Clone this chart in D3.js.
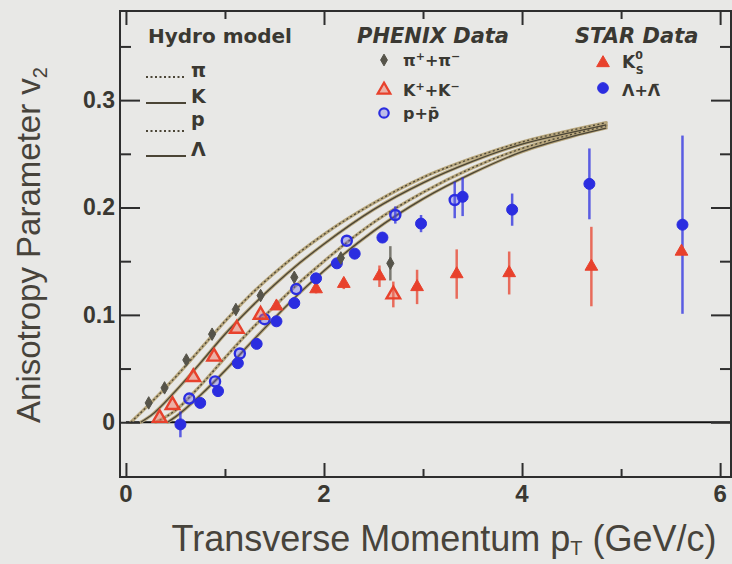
<!DOCTYPE html>
<html>
<head>
<meta charset="utf-8">
<script src="https://cdn.jsdelivr.net/npm/d3@7"></script>
<style>
  html, body { margin: 0; padding: 0; background: #e8e8e6; }
  svg { display: block; }
</style>
</head>
<body>
<svg id="chart" width="732" height="564"></svg>
<script>
// ---------- data ----------
// Hydro model curves (pT in GeV/c, v2)
const hydroPt    = [0.05, 0.25, 0.5, 0.75, 1.0, 1.25, 1.5, 1.75, 2.0, 2.5, 3.0, 3.5, 4.0, 4.5, 4.85];
const hydroPion  = [0.000, 0.018, 0.042, 0.068, 0.094, 0.118, 0.139, 0.158, 0.175, 0.204, 0.228, 0.246, 0.261, 0.272, 0.279];
const hydroKaon  = [null, 0.006, 0.029, 0.055, 0.082, 0.106, 0.128, 0.148, 0.166, 0.198, 0.223, 0.243, 0.259, 0.270, 0.277];
const hydroProt  = [null, null, 0.011, 0.034, 0.060, 0.085, 0.108, 0.130, 0.150, 0.186, 0.214, 0.237, 0.255, 0.268, 0.276];
const hydroLam   = [null, null, 0.005, 0.025, 0.048, 0.073, 0.097, 0.120, 0.141, 0.178, 0.208, 0.232, 0.252, 0.266, 0.274];
const hydroStart = [0.05, 0.15, 0.30, 0.42];   // pT where each curve leaves zero

// PHENIX pi+ + pi-
const phxPiPt  = [0.23, 0.39, 0.61, 0.87, 1.11, 1.36, 1.70, 2.17, 2.67];
const phxPiV2  = [0.018, 0.032, 0.058, 0.082, 0.105, 0.118, 0.135, 0.153, 0.148];
const phxPiErr = [0, 0, 0, 0, 0, 0, 0, 0, 0.016];
// PHENIX K+ + K-
const phxKPt   = [0.34, 0.47, 0.68, 0.89, 1.12, 1.36, 2.70];
const phxKV2   = [0.004, 0.016, 0.042, 0.061, 0.087, 0.100, 0.119];
const phxKErr  = [0, 0, 0, 0, 0, 0, 0.012];
// PHENIX p + pbar
const phxPPt   = [0.64, 0.90, 1.15, 1.40, 1.72, 2.23, 2.72, 3.32];
const phxPV2   = [0.022, 0.038, 0.064, 0.096, 0.124, 0.169, 0.193, 0.207];
const phxPErr  = [0, 0, 0, 0, 0, 0, 0.008, 0.017];
// STAR K0s
const starKPt  = [1.52, 1.92, 2.20, 2.56, 2.94, 3.34, 3.87, 4.70, 5.61];
const starKV2  = [0.108, 0.124, 0.129, 0.136, 0.126, 0.138, 0.139, 0.145, 0.159];
const starKErr = [0, 0.004, 0.005, 0.010, 0.016, 0.023, 0.020, 0.037, 0.000];
// STAR Lambda + anti-Lambda
const starLPt  = [0.55, 0.75, 0.93, 1.13, 1.32, 1.52, 1.70, 1.92, 2.13, 2.31, 2.59, 2.98, 3.40, 3.90, 4.68, 5.62];
const starLV2  = [-0.002, 0.018, 0.029, 0.055, 0.073, 0.094, 0.111, 0.134, 0.148, 0.157, 0.172, 0.185, 0.210, 0.198, 0.222, 0.184];
const starLErr = [0.012, 0, 0, 0, 0, 0, 0, 0, 0, 0, 0, 0.008, 0.018, 0.015, 0.033, 0.083];

// axis ticks
const xMajor = [0, 2, 4, 6];
const xMinor = [1, 3, 5];
const yMajor = [0, 0.1, 0.2, 0.3];
const yMinor = [0.05, 0.15, 0.25, 0.35];
const xTickLabels = ["0", "2", "4", "6"];
const yTickLabels = ["0", "0.1", "0.2", "0.3"];

// ---------- drawing ----------
const svg = d3.select("#chart");
const W = 732, H = 564;
const frame = {left: 120, top: 11, right: 731, bottom: 477};

const x = d3.scaleLinear().domain([-0.06, 6.11]).range([frame.left, frame.right]);
const y = d3.scaleLinear().domain([-0.051, 0.383]).range([frame.bottom, frame.top]);

const RED = "#e8412c", BLUE = "#2b2de0", GRAY = "#56544a";
const INK = "#3a3832";
const BAND = "#b8a77d", HYD = "#4b4536";

svg.append("rect").attr("width", W).attr("height", H).attr("fill", "#e8e8e6");

const plot = svg.append("g");

// zero line
plot.append("line")
  .attr("x1", x(0)).attr("x2", frame.right)
  .attr("y1", y(0)).attr("y2", y(0))
  .attr("stroke", "#111").attr("stroke-width", 2);

// hydro curves
const curves = [
  {v: hydroPion, start: hydroStart[0], dash: "2,2.5"},
  {v: hydroKaon, start: hydroStart[1], dash: null},
  {v: hydroProt, start: hydroStart[2], dash: "2,2.5"},
  {v: hydroLam,  start: hydroStart[3], dash: null}
];
const line = d3.line().x(d => x(d[0])).y(d => y(d[1])).curve(d3.curveMonotoneX);
curves.forEach(c => {
  const pts = [[c.start, 0]];
  hydroPt.forEach((p, i) => { if (c.v[i] !== null && p > c.start) pts.push([p, c.v[i]]); });
  c.pts = pts;
});
curves.forEach(c => {
  plot.append("path").attr("d", line(c.pts))
    .attr("fill", "none").attr("stroke", BAND).attr("stroke-width", 3.2).attr("stroke-linecap", "round");
});
curves.forEach(c => {
  plot.append("path").attr("d", line(c.pts))
    .attr("fill", "none").attr("stroke", HYD).attr("stroke-width", 1.3)
    .attr("stroke-dasharray", c.dash);
});

// error bars helper
function errBars(pt, v2, err, color) {
  plot.append("g").selectAll("line")
    .data(pt.map((p, i) => [p, v2[i], err[i]]).filter(d => d[2] > 0))
    .join("line")
    .attr("x1", d => x(d[0])).attr("x2", d => x(d[0]))
    .attr("y1", d => y(d[1] - d[2])).attr("y2", d => y(d[1] + d[2]))
    .attr("stroke", color).attr("stroke-width", 2.5).attr("stroke-opacity", 0.75);
}
errBars(starLPt, starLV2, starLErr, BLUE);
errBars(starKPt, starKV2, starKErr, RED);
errBars(phxPPt, phxPV2, phxPErr, BLUE);
errBars(phxKPt, phxKV2, phxKErr, RED);
errBars(phxPiPt, phxPiV2, phxPiErr, GRAY);

function markers(pt, v2, type, size, fill, stroke, sw) {
  plot.append("g").selectAll("path")
    .data(pt.map((p, i) => [p, v2[i]]))
    .join("path")
    .attr("transform", d => `translate(${x(d[0])},${y(d[1])})`)
    .attr("d", d3.symbol().type(type).size(size))
    .attr("fill", fill).attr("stroke", stroke).attr("stroke-width", sw);
}
markers(starKPt, starKV2, d3.symbolTriangle, 70, RED, RED, 1);
markers(starLPt, starLV2, d3.symbolCircle, 95, BLUE, BLUE, 1);
markers(phxPPt, phxPV2, d3.symbolCircle, 80, "rgba(90,90,240,0.35)", BLUE, 2.4);
markers(phxKPt, phxKV2, d3.symbolTriangle, 80, "rgba(240,110,90,0.45)", RED, 2.4);
markers(phxPiPt, phxPiV2, d3.symbolDiamond, 45, GRAY, GRAY, 1);

// ---------- frame and ticks ----------
const axG = svg.append("g");
axG.append("rect")
  .attr("x", frame.left).attr("y", frame.top)
  .attr("width", frame.right - frame.left).attr("height", frame.bottom - frame.top)
  .attr("fill", "none").attr("stroke", "#2e2e2e").attr("stroke-width", 2);

const bottomMaj = d3.axisBottom(x).tickValues(xMajor).tickSize(-14).tickFormat(() => "");
const bottomMin = d3.axisBottom(x).tickValues(xMinor).tickSize(-8).tickFormat(() => "");
const topMaj = d3.axisTop(x).tickValues(xMajor).tickSize(-14).tickFormat(() => "");
const topMin = d3.axisTop(x).tickValues(xMinor).tickSize(-8).tickFormat(() => "");
const leftMaj = d3.axisLeft(y).tickValues(yMajor).tickSize(-20).tickFormat(() => "");
const leftMin = d3.axisLeft(y).tickValues(yMinor).tickSize(-11).tickFormat(() => "");
const rightMaj = d3.axisRight(y).tickValues(yMajor).tickSize(-20).tickFormat(() => "");
const rightMin = d3.axisRight(y).tickValues(yMinor).tickSize(-11).tickFormat(() => "");

function place(ax, tx, ty) {
  const g = axG.append("g").attr("transform", `translate(${tx},${ty})`).call(ax);
  g.select(".domain").remove();
  g.selectAll(".tick line").attr("stroke", "#2e2e2e").attr("stroke-width", 2);
}
place(bottomMaj, 0, frame.bottom); place(bottomMin, 0, frame.bottom);
place(topMaj, 0, frame.top); place(topMin, 0, frame.top);
place(leftMaj, frame.left, 0); place(leftMin, frame.left, 0);
place(rightMaj, frame.right, 0); place(rightMin, frame.right, 0);

// tick labels
axG.append("g").selectAll("text").data(xMajor).join("text")
  .attr("x", d => x(d)).attr("y", 502)
  .attr("text-anchor", "middle")
  .attr("font-family", "Liberation Sans, Arial, sans-serif").attr("font-size", 24).attr("font-weight", "bold")
  .attr("fill", INK)
  .text((d, i) => xTickLabels[i]);
axG.append("g").selectAll("text").data(yMajor).join("text")
  .attr("x", 115).attr("y", d => y(d) + 8)
  .attr("text-anchor", "end")
  .attr("font-family", "Liberation Sans, Arial, sans-serif").attr("font-size", 23).attr("font-weight", "bold")
  .attr("fill", INK)
  .text((d, i) => yTickLabels[i]);

// axis titles
const xt = svg.append("text")
  .attr("x", 444).attr("y", 551).attr("text-anchor", "middle")
  .attr("font-family", "Liberation Sans, Arial, sans-serif").attr("font-size", 36)
  .attr("fill", "#47433b");
xt.append("tspan").text("Transverse Momentum p");
xt.append("tspan").attr("font-size", 20).attr("dy", 4).text("T");
xt.append("tspan").attr("dy", -4).text(" (GeV/c)");

const yt = svg.append("text")
  .attr("transform", "translate(40,245) rotate(-90)").attr("text-anchor", "middle")
  .attr("font-family", "Liberation Sans, Arial, sans-serif").attr("font-size", 33)
  .attr("fill", "#47433b");
yt.append("tspan").text("Anisotropy Parameter v");
yt.append("tspan").attr("font-size", 20).attr("dy", 7).text("2");

// ---------- legend ----------
const lg = svg.append("g").attr("font-family", "DejaVu Sans, sans-serif").attr("fill", INK);
lg.append("text").attr("x", 148).attr("y", 43).attr("font-size", 20).attr("font-weight", "bold").text("Hydro model");
lg.append("text").attr("x", 357).attr("y", 43).attr("font-size", 21).attr("font-weight", "bold").attr("font-style", "italic").text("PHENIX Data");
lg.append("text").attr("x", 575).attr("y", 43).attr("font-size", 21).attr("font-weight", "bold").attr("font-style", "italic").text("STAR Data");

const hydroLegend = [
  {label: "π", y: 77, dash: "2,2.5"},
  {label: "K", y: 103, dash: null},
  {label: "p", y: 131, dash: "2,2.5"},
  {label: "Λ", y: 156, dash: null}
];
hydroLegend.forEach(h => {
  lg.append("line").attr("x1", 146).attr("x2", 186).attr("y1", h.y).attr("y2", h.y)
    .attr("stroke", HYD).attr("stroke-width", 2).attr("stroke-dasharray", h.dash);
  lg.append("text").attr("x", 191).attr("y", h.label === "p" ? 126 : h.y).attr("font-size", 19).attr("font-weight", "bold").text(h.label);
});

function legSym(cx, cy, type, size, fill, stroke, sw) {
  lg.append("path").attr("transform", `translate(${cx},${cy})`)
    .attr("d", d3.symbol().type(type).size(size))
    .attr("fill", fill).attr("stroke", stroke).attr("stroke-width", sw);
}
legSym(384, 60, d3.symbolDiamond, 40, GRAY, GRAY, 1);
legSym(384, 90, d3.symbolTriangle, 70, "rgba(240,110,90,0.45)", RED, 2.2);
legSym(384, 113, d3.symbolCircle, 70, "rgba(90,90,240,0.3)", BLUE, 2.2);
legSym(603, 63, d3.symbolTriangle, 70, RED, RED, 1);
legSym(603, 88, d3.symbolCircle, 90, BLUE, BLUE, 1);

function supText(xp, yp, parts) {
  const t = lg.append("text").attr("x", xp).attr("y", yp).attr("font-size", 16).attr("font-weight", "bold");
  parts.forEach(p => {
    const s = t.append("tspan").text(p.t);
    if (p.sup) s.attr("font-size", 11).attr("baseline-shift", "super");
    if (p.sub) s.attr("font-size", 12).attr("baseline-shift", "sub");
  });
}
supText(403, 66, [{t: "π"}, {t: "+", sup: true}, {t: "+π"}, {t: "−", sup: true}]);
supText(403, 96, [{t: "K"}, {t: "+", sup: true}, {t: "+K"}, {t: "−", sup: true}]);
supText(403, 119, [{t: "p+p\u0304"}]);
const k0 = lg.append("text").attr("x", 622).attr("y", 68).attr("font-size", 17).attr("font-weight", "bold");
k0.append("tspan").text("K");
k0.append("tspan").attr("font-size", 11).attr("dx", 0).attr("dy", -9).text("0");
k0.append("tspan").attr("font-size", 11).attr("dx", -7).attr("dy", 15).text("S");
supText(622, 96, [{t: "Λ+Λ\u0304"}]);
</script>
</body>
</html>
